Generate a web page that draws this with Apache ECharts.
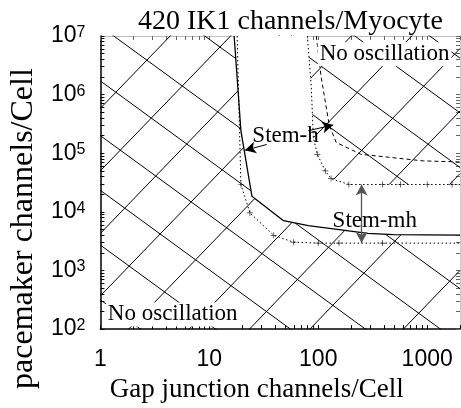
<!DOCTYPE html>
<html><head><meta charset="utf-8">
<script src="https://cdn.jsdelivr.net/npm/echarts@6/dist/echarts.min.js"></script>
<style>html,body{margin:0;padding:0;background:#fff}#c{width:461px;height:408px}</style>
</head><body><div id="c"></div>
<script>
// ---- texts ----
const titleText = '420 IK1 channels/Myocyte';
const xName = 'Gap junction channels/Cell';
const yName = 'pacemaker channels/Cell';
// ---- ticks ----
const xTickValues = [1, 10, 100, 1000];
const xMinorTicks = [1,2,3,4,5,6,7,8,9,10,20,30,40,50,60,70,80,90,100,200,300,400,500,600,700,800,900,1000,2000];
const yTickValues = [1e2, 1e3, 1e4, 1e5, 1e6, 1e7];
const yMinorTicks = [100,200,300,400,500,600,700,800,900,1e3,2e3,3e3,4e3,5e3,6e3,7e3,8e3,9e3,1e4,2e4,3e4,4e4,5e4,6e4,7e4,8e4,9e4,1e5,2e5,3e5,4e5,5e5,6e5,7e5,8e5,9e5,1e6,2e6,3e6,4e6,5e6,6e6,7e6,8e6,9e6,1e7];
// ---- Stem-h boundaries (solid lower/left, dashed upper/right) ----
const stemhLowerX = [16.9, 19.5, 24.6, 48, 81, 285, 490, 2000];
const stemhLowerY = [1e7, 2.4e5, 1.85e4, 7.08e3, 5.8e3, 4.3e3, 4.1e3, 4.0e3];
const stemhUpperX = [95.9, 106, 126, 146, 246, 920, 2000];
const stemhUpperY = [1e7, 2.07e6, 3.04e5, 1.53e5, 9.6e4, 7.4e4, 7.1e4];
// ---- Stem-mh boundaries (dotted with + markers) ----
const stemmhLowerX = [18, 19.5, 23.6, 39, 59.3, 100, 155, 390, 2000];
const stemmhLowerY = [1e7, 2.93e4, 9.6e3, 3.98e3, 3.04e3, 2.93e3, 2.93e3, 2.93e3, 2.93e3];
const stemmhUpperX = [79.4, 86.3, 90.1, 98, 116, 131, 191, 390, 569, 1000, 1690, 2000];
const stemmhUpperY = [1e7, 1.36e6, 1.85e5, 9.6e4, 5.0e4, 3.69e4, 2.93e4, 2.93e4, 2.93e4, 2.93e4, 2.93e4, 2.93e4];
const lowerMarkX = [19.5, 23.6, 39, 59.3, 100, 155, 390];
const lowerMarkY = [2.93e4, 9.6e3, 3.98e3, 3.04e3, 2.93e3, 2.93e3, 2.93e3];
const upperMarkX = [98, 116, 131, 191, 390, 569, 1000, 1690];
const upperMarkY = [9.6e4, 5.0e4, 3.69e4, 2.93e4, 2.93e4, 2.93e4, 2.93e4, 2.93e4];
// ---- hatch lines, as decade exponents: [log10 x1, log10 y1, log10 x2, log10 y2] ----
const hatchDescLog = [
  [0, 11.1, 3.301, 6.623],
  [0, 10.167, 3.301, 5.69],
  [0, 9.233, 3.301, 4.757],
  [0, 8.3, 3.301, 3.823],
  [0, 7.167, 3.301, 2.69],
  [0, 6.233, 3.301, 1.757],
  [0, 5.3, 3.301, 0.823],
  [0, 4.367, 3.301, -0.11],
  [0, 3.433, 3.301, -1.043],
  [0, 2.5, 3.301, -1.977]
];
const hatchAscLog = [
  [0, 5.767, 3.301, 12.119],
  [0, 4.7, 3.301, 11.053],
  [0, 3.633, 3.301, 9.986],
  [0, 2.567, 3.301, 8.919],
  [0, 1.5, 3.301, 7.853],
  [0, 0.433, 3.301, 6.786],
  [0, -0.633, 3.301, 5.719],
  [0, -1.7, 3.301, 4.653],
  [0, -3.35, 3.301, 3.0]
];
// ---- annotations ----
const noteNames = ['No oscillation', 'No oscillation', 'Stem-h', 'Stem-mh'];
const noteX = [406, 4.61, 50.1, 330];
const noteY = [4.9e6, 178, 2.0e5, 7.08e3];
const noteBg = [true, true, false, false];
// arrows [x1,y1,x2,y2]
const stemhArrows = [[33.7, 1.41e5, 21.2, 1.12e5], [81, 2.42e5, 137, 3.04e5]];
const stemmhArrow = [250, 2.93e4, 250, 2.93e3];

const serif = '"Liberation Serif", "Times New Roman", serif';
const sans = '"Liberation Sans", Arial, sans-serif';
const pairs = (xs, ys) => xs.map((x, i) => [x, ys[i]]);
const p10 = v => Math.pow(10, v);
const plus = 'path://M4.4,0h1.2v10h-1.2z M0,4.4h10v1.2h-10z';

const series = [];
hatchDescLog.concat(hatchAscLog).forEach(h => {
  series.push({type: 'line', data: [[p10(h[0]), p10(h[1])], [p10(h[2]), p10(h[3])]], symbol: 'none', clip: true, z: 1,
    lineStyle: {color: '#000', width: 1}, silent: true});
});
// white oscillation region covers hatch
const whitePoly = pairs(stemhLowerX, stemhLowerY).concat(pairs(stemmhUpperX, stemmhUpperY).reverse());
series.push({type: 'custom', z: 2, clip: true, data: [[20, 1000]], silent: true,
  renderItem: (params, api) => ({type: 'polygon', shape: {points: whitePoly.map(p => api.coord(p))}, style: {fill: '#fff'}})});
series.push({type: 'line', z: 3, symbol: 'none', data: pairs(stemhLowerX, stemhLowerY), lineStyle: {color: '#000', width: 1.3}});
series.push({type: 'line', z: 3, symbol: 'none', data: pairs(stemhUpperX, stemhUpperY), lineStyle: {color: '#000', width: 1, type: [4, 3]}});
series.push({type: 'line', z: 3, symbol: 'none', data: pairs(stemmhLowerX, stemmhLowerY), lineStyle: {color: '#000', width: 1, type: [1.5, 2.5]}});
series.push({type: 'line', z: 3, symbol: 'none', data: pairs(stemmhUpperX, stemmhUpperY), lineStyle: {color: '#000', width: 1, type: [1.5, 2.5]}});
series.push({type: 'scatter', z: 4, symbol: plus, symbolSize: 6, itemStyle: {color: '#000'},
  data: pairs(lowerMarkX, lowerMarkY).concat(pairs(upperMarkX, upperMarkY))});
series.push({type: 'scatter', z: 5, symbolSize: 1, itemStyle: {color: 'rgba(0,0,0,0)'},
  data: noteNames.map((n, i) => ({name: n, value: [noteX[i], noteY[i]],
    label: noteBg[i] ? {backgroundColor: '#fff', padding: [1, 2, 0, 2]} : {}})),
  label: {show: true, position: 'inside', formatter: p => p.name, fontFamily: serif, fontSize: 23,
    color: '#000', textBorderWidth: 0, opacity: 1}});
series.push({type: 'line', z: 5, data: [], markLine: {silent: true, animation: false, symbol: ['none', 'arrow'], symbolSize: [9, 11],
  label: {show: false}, lineStyle: {color: '#000', width: 1, type: 'solid'},
  data: stemhArrows.map(a => [{coord: [a[0], a[1]]}, {coord: [a[2], a[3]]}])}});
series.push({type: 'line', z: 5, data: [], markLine: {silent: true, animation: false, symbol: ['arrow', 'arrow'], symbolSize: [9, 11],
  label: {show: false}, lineStyle: {color: '#555', width: 1.3, type: 'solid'},
  data: [[{coord: [stemmhArrow[0], stemmhArrow[1]]}, {coord: [stemmhArrow[2], stemmhArrow[3]]}]]}});

const baseAxis = {type: 'log', logBase: 10, splitLine: {show: false}};
const chart = echarts.init(document.getElementById('c'));
chart.setOption({
  animation: false,
  backgroundColor: '#fff',
  title: {text: titleText, left: 133, top: 3, textStyle: {fontFamily: serif, fontSize: 28, fontWeight: 'normal', color: '#000'}},
  grid: {left: 97, right: 1, top: 36, bottom: 71},
  xAxis: [
    Object.assign({}, baseAxis, {min: 1, max: 2000, position: 'bottom', name: xName, nameLocation: 'middle', nameGap: 38,
      nameTextStyle: {fontFamily: serif, fontSize: 27, color: '#000', padding: [0, 47, 0, 0]},
      axisLine: {lineStyle: {color: '#000', width: 1.5}},
      axisTick: {inside: true, length: 4, customValues: xMinorTicks, lineStyle: {color: '#000'}},
      axisLabel: {customValues: xTickValues, margin: 19, fontFamily: sans, fontSize: 23, color: '#000',
        formatter: v => String(Math.round(v))}}),
    Object.assign({}, baseAxis, {min: 1, max: 2000, position: 'top',
      axisLine: {lineStyle: {color: '#bbb', width: 1}},
      axisTick: {inside: true, length: 4, customValues: xMinorTicks, lineStyle: {color: '#666'}},
      axisLabel: {show: false}})
  ],
  yAxis: [
    Object.assign({}, baseAxis, {min: 100, max: 1e7, position: 'left', name: yName, nameLocation: 'middle', nameGap: 57,
      nameTextStyle: {fontFamily: serif, fontSize: 32, color: '#000', padding: [0, 92, 0, 0]},
      axisLine: {lineStyle: {color: '#000', width: 1.5}},
      axisTick: {inside: true, length: 4, customValues: yMinorTicks, lineStyle: {color: '#000'}},
      axisLabel: {customValues: yTickValues, margin: 15,
        formatter: v => '{b|10}{s|' + Math.round(Math.log10(v)) + '}',
        rich: {b: {fontFamily: sans, fontSize: 23, color: '#000', verticalAlign: 'bottom', lineHeight: 23},
               s: {fontFamily: sans, fontSize: 16, color: '#000', verticalAlign: 'top', lineHeight: 16, padding: [0, 0, 16, 0]}}}}),
    Object.assign({}, baseAxis, {min: 100, max: 1e7, position: 'right',
      axisLine: {lineStyle: {color: '#ccc', width: 1}},
      axisTick: {inside: true, length: 4, customValues: yMinorTicks, lineStyle: {color: '#666'}},
      axisLabel: {show: false}})
  ],
  series: series
});
</script>
</body></html>
